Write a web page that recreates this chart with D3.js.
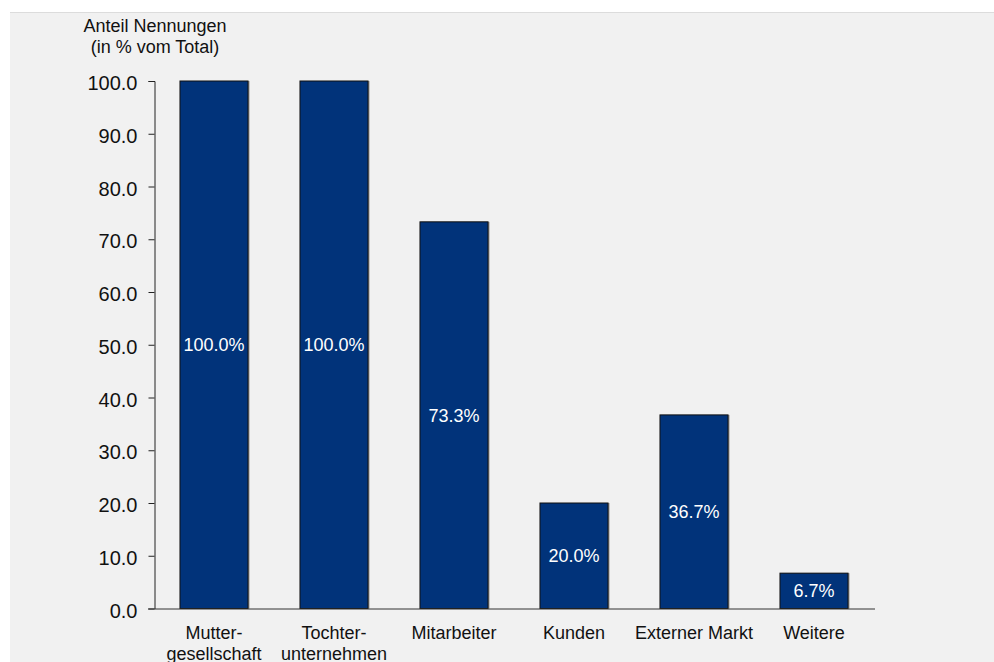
<!DOCTYPE html>
<html>
<head>
<meta charset="utf-8">
<script src="https://cdn.jsdelivr.net/npm/d3@7"></script>
<style>
  html, body { margin: 0; padding: 0; background: #ffffff; }
  svg { display: block; font-family: "Liberation Sans", Arial, Helvetica, sans-serif; }
</style>
</head>
<body>
<svg id="chart" width="994" height="662"></svg>
<script>
// Shares of mentions per source (in % of total)
const categories = [
  ["Mutter-", "gesellschaft"],
  ["Tochter-", "unternehmen"],
  ["Mitarbeiter"],
  ["Kunden"],
  ["Externer Markt"],
  ["Weitere"]
];
const values = [100.0, 100.0, 73.3, 20.0, 36.7, 6.7];
const yTicks = [0, 10, 20, 30, 40, 50, 60, 70, 80, 90, 100];
const yTitle = ["Anteil Nennungen", "(in % vom Total)"];

const svg = d3.select("#chart");

// panel background
svg.append("rect")
  .attr("x", 10).attr("y", 12)
  .attr("width", 984).attr("height", 650)
  .attr("fill", "#f1f1f1");
svg.append("line")
  .attr("x1", 10).attr("x2", 994).attr("y1", 12.5).attr("y2", 12.5)
  .attr("stroke", "#dcdcdc");

const x = d3.scaleBand()
  .domain(d3.range(categories.length))
  .range([154, 874])
  .paddingInner(0.433)
  .paddingOuter(0.2165);

const y = d3.scaleLinear().domain([0, 100]).range([608.5, 81]);

// bars with a faint shadow on the right side
const g = svg.append("g");
g.selectAll("rect.shadow")
  .data(values)
  .join("rect")
  .attr("class", "shadow")
  .attr("x", (d, i) => x(i) + 1.5)
  .attr("y", d => y(d))
  .attr("width", x.bandwidth())
  .attr("height", d => y(0) - y(d))
  .attr("fill", "#9a9a9a");
g.selectAll("rect.bar")
  .data(values)
  .join("rect")
  .attr("class", "bar")
  .attr("x", (d, i) => x(i))
  .attr("y", d => y(d))
  .attr("width", x.bandwidth())
  .attr("height", d => y(0) - y(d))
  .attr("fill", "#01337a")
  .attr("stroke", "#111111")
  .attr("stroke-width", 1);

// value labels centred within each bar
g.selectAll("text.val")
  .data(values)
  .join("text")
  .attr("class", "val")
  .attr("x", (d, i) => x(i) + x.bandwidth() / 2)
  .attr("y", d => (y(d) + y(0)) / 2)
  .attr("dy", "0.36em")
  .attr("text-anchor", "middle")
  .attr("fill", "#ffffff")
  .attr("font-size", 18)
  .text(d => d.toFixed(1) + "%");

// y axis
const yAxis = d3.axisLeft(y)
  .tickValues(yTicks)
  .tickSize(6)
  .tickPadding(11)
  .tickFormat(d => d.toFixed(1));
const ya = svg.append("g")
  .attr("transform", "translate(154.5,0)")
  .call(yAxis);
ya.select(".domain").attr("stroke", "#222").attr("d", "M-6," + (y(100) + 0.5) + "H0.5V" + (y(0) + 0.5));
ya.selectAll(".tick line").attr("stroke", "#222");
ya.selectAll(".tick text")
  .attr("font-size", 20)
  .attr("dy", "0.43em")
  .attr("fill", "#111")
  .attr("font-family", "Liberation Sans, Arial, sans-serif");

// x axis baseline
svg.append("line")
  .attr("x1", 148).attr("x2", 875)
  .attr("y1", y(0) + 0.5).attr("y2", y(0) + 0.5)
  .attr("stroke", "#333");

// category labels
const cat = svg.append("g").selectAll("text.cat")
  .data(categories)
  .join("text")
  .attr("class", "cat")
  .attr("x", (d, i) => x(i) + x.bandwidth() / 2)
  .attr("y", 639)
  .attr("text-anchor", "middle")
  .attr("font-size", 18)
  .attr("fill", "#111");
cat.selectAll("tspan")
  .data(d => d)
  .join("tspan")
  .attr("x", function () { return d3.select(this.parentNode).attr("x"); })
  .attr("dy", (d, i) => i === 0 ? 0 : 21)
  .text(d => d);

// y axis title
svg.append("g").selectAll("text.ytitle")
  .data(yTitle)
  .join("text")
  .attr("x", 155)
  .attr("y", (d, i) => 32 + i * 21)
  .attr("text-anchor", "middle")
  .attr("font-size", 18)
  .attr("fill", "#111")
  .text(d => d);
</script>
</body>
</html>
